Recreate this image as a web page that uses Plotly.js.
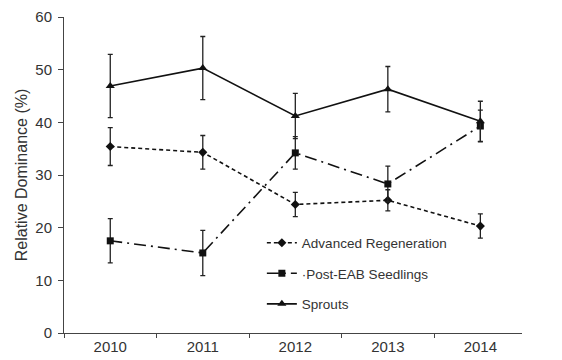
<!DOCTYPE html>
<html><head><meta charset="utf-8">
<script src="https://cdn.plot.ly/plotly-3.0.1.min.js"></script>
<style>html,body{margin:0;padding:0;background:#fff}#c{width:562px;height:360px}</style>
</head><body><div id="c"></div>
<script>
const years = ['2010','2011','2012','2013','2014'];
const advRegen = [35.4, 34.3, 24.4, 25.2, 20.3];
const advRegenErr = [3.6, 3.2, 2.3, 2.0, 2.3];
const postEAB = [17.5, 15.2, 34.2, 28.3, 39.3];
const postEABErr = [4.2, 4.3, 3.1, 3.4, 3.0];
const sprouts = [46.9, 50.3, 41.2, 46.3, 40.2];
const sproutsErr = [6.0, 6.0, 4.3, 4.3, 3.8];
const yTicks = [0, 10, 20, 30, 40, 50, 60];

function eb(arr){return {type:'data', array:arr, visible:true, color:'#222', thickness:1.3, width:2.5};}

const traces = [
  {x: years, y: advRegen, name: 'Advanced Regeneration', legendgroup:'a', mode:'lines+markers',
   line:{color:'#111', width:1.6, dash:'4px,3px'}, marker:{symbol:'diamond', size:7, color:'#111'},
   error_y: eb(advRegenErr)},
  {x: years, y: postEAB, name: '·Post-EAB Seedlings', legendgroup:'b', mode:'lines+markers',
   line:{color:'#111', width:1.6, dash:'12px,5px,2px,5px'}, marker:{symbol:'square', size:7, color:'#111'},
   error_y: eb(postEABErr)},
  {x: years, y: sprouts, name: 'Sprouts', legendgroup:'c', mode:'lines+markers',
   line:{color:'#111', width:1.6}, marker:{symbol:'triangle-up', size:8, color:'#111'},
   error_y: eb(sproutsErr)}
];

const layout = {
  width:562, height:360,
  margin:{l:64, r:40, t:17, b:27},
  paper_bgcolor:'#fff', plot_bgcolor:'#fff',
  font:{family:'Liberation Sans, Arial, sans-serif', color:'#333', size:15},
  showlegend:true,
  legend:{x:0.432, y:0.334, xanchor:'left', yanchor:'top', bgcolor:'rgba(0,0,0,0)',
          font:{size:13.5, color:'#333'}, tracegroupgap:10, itemwidth:30},
  xaxis:{type:'category', range:[-0.5,4.45], showline:true, linecolor:'#444', linewidth:1,
         ticks:'outside', tickson:'boundaries', ticklen:4, tickcolor:'#444', showgrid:false,
         zeroline:false, tickfont:{size:15}},
  yaxis:{range:[0,60], tickvals:yTicks, showline:true, linecolor:'#444', linewidth:1,
         ticks:'outside', ticklen:5, tickcolor:'#444', showgrid:false, zeroline:false,
         ticklabelstandoff:3,
         tickfont:{size:15}, title:{text:'Relative Dominance (%)', font:{size:16}, standoff:3}}
};
Plotly.newPlot('c', traces, layout, {staticPlot:true});
</script></body></html>
